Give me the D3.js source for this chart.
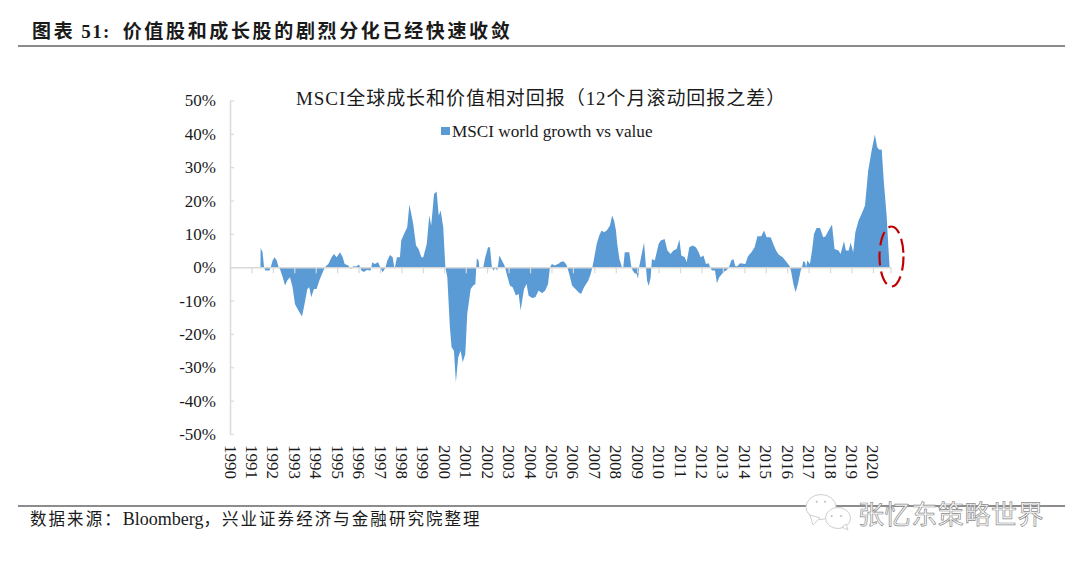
<!DOCTYPE html>
<html>
<head>
<meta charset="utf-8">
<script src="https://cdn.jsdelivr.net/npm/d3@7"></script>
<style>
    html, body { margin: 0; padding: 0; background: #fff; }
    svg { display: block; }
    text { font-family: "Liberation Serif", "Noto Sans CJK SC", serif; fill: #1a1a1a; }
</style>
</head>
<body>
<div id="chart"></div>
<script>
const pageTitle = '图表 51:  价值股和成长股的剧烈分化已经快速收敛';
const chartTitle = 'MSCI全球成长和价值相对回报（12个月滚动回报之差）';
const seriesName = 'MSCI world growth vs value';
const sourceNote = '数据来源：Bloomberg，兴业证券经济与金融研究院整理';
const watermark = '张忆东策略世界';

const yTicks = [-50, -40, -30, -20, -10, 0, 10, 20, 30, 40, 50];
const xLabels = d3.range(1990, 2021);
const lastDate = 2020.82;

// dates are decimal years
const dates = [
    1991.42, 1991.43, 1991.52, 1991.59, 1991.65, 1991.84, 1991.90, 1991.99, 1992.08, 1992.18,
    1992.27, 1992.33, 1992.46, 1992.57, 1992.67, 1992.80, 1992.92, 1993.03, 1993.19, 1993.36,
    1993.45, 1993.61, 1993.70, 1993.79, 1993.92, 1994.04, 1994.17, 1994.29, 1994.43, 1994.59,
    1994.74, 1994.85, 1994.98, 1995.13, 1995.26, 1995.35, 1995.52, 1995.63, 1995.75, 1995.88,
    1996.02, 1996.13, 1996.25, 1996.38, 1996.56, 1996.64, 1996.75, 1996.91, 1997.01, 1997.12,
    1997.25, 1997.34, 1997.47, 1997.59, 1997.68, 1997.79, 1997.93, 1997.99, 1998.12, 1998.27,
    1998.37, 1998.46, 1998.55, 1998.68, 1998.80, 1998.93, 1999.02, 1999.18, 1999.30, 1999.39,
    1999.52, 1999.64, 1999.74, 1999.83, 1999.95, 2000.05, 2000.14, 2000.26, 2000.34, 2000.45,
    2000.54, 2000.65, 2000.76, 2000.86, 2000.98, 2001.07, 2001.23, 2001.35, 2001.45, 2001.49,
    2001.52, 2001.60, 2001.63, 2001.82, 2001.91, 2002.04, 2002.13, 2002.22, 2002.29, 2002.38,
    2002.47, 2002.57, 2002.69, 2002.81, 2002.91, 2003.06, 2003.19, 2003.34, 2003.47, 2003.56,
    2003.72, 2003.84, 2003.93, 2004.09, 2004.25, 2004.40, 2004.56, 2004.71, 2004.84, 2004.93,
    2005.02, 2005.15, 2005.37, 2005.40, 2005.56, 2005.68, 2005.74, 2005.87, 2005.96, 2006.12,
    2006.26, 2006.38, 2006.52, 2006.72, 2006.83, 2006.91, 2007.00, 2007.11, 2007.23, 2007.34,
    2007.45, 2007.58, 2007.73, 2007.83, 2007.92, 2008.01, 2008.07, 2008.17, 2008.29, 2008.35,
    2008.42, 2008.63, 2008.73, 2008.79, 2008.88, 2008.98, 2009.04, 2009.09, 2009.18, 2009.32,
    2009.41, 2009.46, 2009.54, 2009.63, 2009.66, 2009.69, 2009.82, 2010.00, 2010.10, 2010.28,
    2010.41, 2010.56, 2010.69, 2010.84, 2010.97, 2011.06, 2011.22, 2011.31, 2011.43, 2011.59,
    2011.74, 2011.87, 2011.96, 2012.09, 2012.21, 2012.34, 2012.40, 2012.49, 2012.63, 2012.72,
    2012.83, 2013.02, 2013.18, 2013.30, 2013.39, 2013.49, 2013.58, 2013.67, 2013.80, 2014.05,
    2014.17, 2014.33, 2014.48, 2014.61, 2014.79, 2014.92, 2015.04, 2015.23, 2015.35, 2015.48,
    2015.60, 2015.79, 2015.91, 2016.13, 2016.19, 2016.29, 2016.39, 2016.50, 2016.63, 2016.69,
    2016.75, 2016.83, 2016.88, 2016.94, 2017.06, 2017.16, 2017.25, 2017.37, 2017.53, 2017.68,
    2017.78, 2017.93, 2018.09, 2018.21, 2018.40, 2018.49, 2018.65, 2018.74, 2018.87, 2018.96,
    2019.08, 2019.18, 2019.33, 2019.49, 2019.63, 2019.78, 2019.94, 2020.09, 2020.20, 2020.30,
    2020.41, 2020.51, 2020.64, 2020.73, 2020.78
];
const values = [
    0, 5.8, 4.5, 0, -1, -1, 0, 2, 3, 2,
    0, -0.5, -3, -5.5, -4, -3, -6, -11, -13, -14.8,
    -12, -6.5, -6, -9, -6.5, -6.5, -4, -2, 0, 1,
    3, 4, 3, 4.5, 3, 1, 0.5, -0.5, 0.3, 0.2,
    0.8, -1, -1.4, -0.8, -1, 1.5, 1, 1.5, 0, -1.5,
    -0.2, 2, 3.7, 3, -0.6, 3, 3, 8, 10, 12,
    18.8, 16, 13, 6.5, 5.5, 3, 3, 7, 15.5, 12.5,
    22, 22.7, 15.5, 17, 12, 0, -3, -18, -24, -25,
    -34.5, -27, -25, -28.5, -26, -14, -6.5, -5.5, -5, 0,
    2.7, 2, 0, 0, 3, 6, 6, 0, -1, -0.2,
    -1, 3.5, 2, 0.5, -2, -5.5, -6, -8.5, -8, -13,
    -6.5, -5, -8.5, -9.2, -9, -7, -7.8, -7, -5, 0,
    1, 0.5, 1.2, 1.5, 1.8, 1, 0, -3, -5.5, -6.5,
    -7.5, -8, -6, -4, -2, 0, 3, 7, 9.5, 11,
    10.5, 11, 12.5, 15.5, 14, 11, 7, 2.5, 0, 0,
    4.5, 4.5, 0, -1, -1.8, -2, -3.5, 0, 3, 7.4,
    0, -4, -5.6, -3, 0, 2.5, 2, 7, 8, 8.5,
    5, 4, 5, 5.5, 8.3, 3.5, 3, 1.5, 6, 6.5,
    6, 4.5, 3, 3.5, 1, 1.2, 0, -1, -1, -4.8,
    -3, -1.5, -0.8, 0.3, 2, 2.5, 0.3, 0.3, 1.2, 1,
    3.3, 4.5, 6, 9.3, 9.3, 11, 9, 9, 7, 5,
    3.8, 3, 2, 0.2, -1.5, -5, -7.5, -5, -1, 0,
    1.8, 1.6, 0, 2, 1, 5, 10, 11.8, 11.8, 9,
    9.2, 11, 12.8, 5.5, 5, 4, 7.8, 5, 5, 7.4,
    4.5, 10.5, 14, 16.3, 18.5, 29, 35, 39.8, 36, 35.2,
    35.3, 25.5, 15.5, 5, 0
];

const width = 1080, height = 562;
const blue = '#5b9bd5', axisGrey = '#d9d9d9';

const svg = d3.select('#chart').append('svg')
    .attr('width', width)
    .attr('height', height);

const x = d3.scaleLinear().domain([1990, lastDate]).range([230, 890.5]);
const y = d3.scaleLinear().domain([-50, 50]).range([434, 100.5]);

// latin and CJK runs need different spacing to hit the original widths
function mixedText(node, str, cjkSpacing, latinSpacing, latinSize){
    str.split(/([A-Za-z0-9: ]+)/).filter(s => s.length).forEach(run => {
        const isLatin = /^[A-Za-z0-9: ]+$/.test(run);
        const span = node.append('tspan')
            .attr('letter-spacing', isLatin ? latinSpacing : cjkSpacing)
            .text(run);
        if (isLatin && latinSize) span.attr('font-size', latinSize);
    });
}

// header and footer
const header = svg.append('text').attr('x', 32).attr('y', 37.5)
    .attr('font-size', 19).attr('font-weight', 700)
    .style('white-space', 'pre');
mixedText(header, pageTitle, 2.65, 1.3);
svg.append('line').attr('x1', 18).attr('x2', 1065).attr('y1', 46).attr('y2', 46)
    .attr('stroke', '#666').attr('stroke-width', 1.5);
svg.append('line').attr('x1', 18).attr('x2', 1065).attr('y1', 506).attr('y2', 506)
    .attr('stroke', '#666').attr('stroke-width', 1.5);
const footer = svg.append('text').attr('x', 30).attr('y', 525)
    .attr('font-size', 16.5);
mixedText(footer, sourceNote, 2.05, 0, 18);

// the series, slightly soft like the original scan
const area = d3.area()
    .x((d, i) => x(dates[i]))
    .y0(y(0))
    .y1(d => y(d));
svg.append('path').datum(values)
    .attr('d', area)
    .attr('fill', blue)
    .style('filter', 'blur(0.4px)');

// axes go on top, the ticks show through the blue in the original
const yAxis = d3.axisLeft(y)
    .tickValues(yTicks)
    .tickSizeOuter(0)
    .tickSizeInner(-4)
    .tickPadding(14)
    .tickFormat(d => d + '%');
const gy = svg.append('g').attr('transform', `translate(${x(1990)},0)`).call(yAxis);

const xAxis = d3.axisBottom(x)
    .tickValues(xLabels.concat([lastDate]))
    .tickSizeOuter(0)
    .tickSizeInner(6)
    .tickFormat(d => xLabels.includes(d) ? d : '');
const gx = svg.append('g').attr('transform', `translate(0,${y(0)})`).call(xAxis);

[gy, gx].forEach(g => {
    g.selectAll('.domain').attr('stroke', axisGrey).attr('stroke-width', 1.5);
    g.selectAll('.tick line').attr('stroke', axisGrey).attr('stroke-width', 1.2);
});
gy.selectAll('text').attr('font-size', 17).attr('font-family', null);
gx.selectAll('text')
    .attr('font-size', 17)
    .attr('font-family', null)
    .attr('text-anchor', 'start')
    .attr('dy', '0.35em')
    .attr('y', 0)
    .attr('transform', `translate(0,${445 - y(0)}) rotate(90)`);

// chart title and legend
svg.append('text').attr('x', 296).attr('y', 105)
    .attr('font-size', 19).attr('letter-spacing', 0.95)
    .text(chartTitle);
svg.append('rect').attr('x', 441).attr('y', 127).attr('width', 9).attr('height', 8)
    .attr('fill', blue);
svg.append('text').attr('x', 452).attr('y', 136.5)
    .attr('font-size', 17.2)
    .text(seriesName);

// red dashed marker round the last months
svg.append('ellipse').attr('cx', 891.5).attr('cy', 256.5).attr('rx', 12).attr('ry', 30)
    .attr('fill', 'none').attr('stroke', '#c00000').attr('stroke-width', 2.2)
    .attr('stroke-dasharray', '14 6');

// wechat watermark
const wm = svg.append('g').attr('stroke', '#cfcfcf').attr('stroke-width', 1).attr('fill', '#fff');
wm.append('ellipse').attr('cx', 821).attr('cy', 507).attr('rx', 15).attr('ry', 12.5);
wm.append('path').attr('d', 'M810 515 L813 525 L820 518 Z');
wm.append('ellipse').attr('cx', 838).attr('cy', 518).attr('rx', 12.5).attr('ry', 10.5);
wm.append('path').attr('d', 'M842 527 L848 530 L846 524 Z');
[[816.7, 501.7], [825, 501.7], [831.7, 516], [841, 516]].forEach(p => {
    wm.append('circle').attr('cx', p[0]).attr('cy', p[1]).attr('r', 1).attr('fill', '#bdbdbd').attr('stroke', 'none');
});
svg.append('text').attr('x', 858).attr('y', 524)
    .attr('font-size', 26).attr('letter-spacing', 0.6)
    .style('fill', '#fff').attr('stroke', '#8c8c8c').attr('stroke-width', 0.7)
    .text(watermark);
</script>
</body>
</html>
